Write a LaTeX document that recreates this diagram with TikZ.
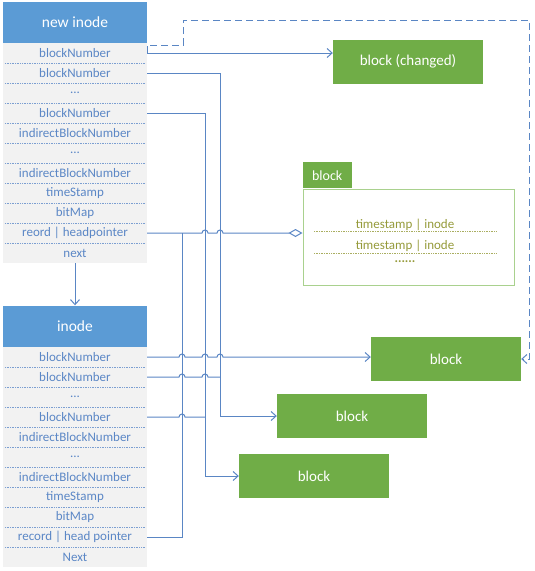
\documentclass[tikz,border=0pt]{standalone}
\usepackage{fontspec}
\setmainfont{Carlito}
\usepackage{tikz}
\usetikzlibrary{arrows.meta,calc}

\definecolor{hdblue}{HTML}{5B9BD5}
\definecolor{rowgray}{HTML}{F2F2F2}
\definecolor{rowtext}{HTML}{5B87C6}
\definecolor{lnblue}{HTML}{5A86C4}
\definecolor{blkgreen}{HTML}{70AD47}
\definecolor{boxgreen}{HTML}{A9D18E}
\definecolor{tsolive}{HTML}{959A3A}

% small bridge where a connector crosses a vertical one
\newcommand{\hopat}[2]{-- ($(#1 -| #2)+(-3,0)$) arc[start angle=180,end angle=360,radius=3]}

\begin{document}
\begin{tikzpicture}[x=1pt, y=-1pt,
  head/.style={rectangle, fill=hdblue, text=white, minimum width=144pt,
               minimum height=41pt, inner sep=0pt, font=\fontsize{15.5}{18}\selectfont},
  row/.style={rectangle, fill=rowgray, text=rowtext, minimum width=144pt,
              minimum height=20pt, inner sep=0pt, font=\fontsize{13}{15}\selectfont},
  blk/.style={rectangle, fill=blkgreen, text=white, minimum width=150pt,
              minimum height=44pt, inner sep=0pt, font=\fontsize{15}{18}\selectfont},
  tsrow/.style={rectangle, text=tsolive, minimum width=182pt, minimum height=14pt,
                inner sep=0pt, font=\fontsize{13}{15}\selectfont},
  sep/.style={rowtext!80, densely dotted, line width=0.7pt, shorten <=2pt, shorten >=2pt},
  tssep/.style={tsolive!80, densely dotted, line width=0.7pt},
  lk/.style={lnblue, line width=1pt},
  dl/.style={lnblue, line width=1pt, dash pattern=on 7pt off 4pt},
  arr/.style={-{Straight Barb[length=5pt,width=9pt]}}]

\useasboundingbox (0,0) rectangle (535,571);

%% new inode table
\node[head] (hd1) at (75,22.5) {new inode};
\node[row] (t1)  at (75,53)  {blockNumber};
\node[row] (t2)  at (75,73)  {blockNumber};
\node[row] (t3)  at (75,93)  {...};
\node[row] (t4)  at (75,113) {blockNumber};
\node[row] (t5)  at (75,133) {indirectBlockNumber};
\node[row] (t6)  at (75,153) {...};
\node[row] (t7)  at (75,173) {indirectBlockNumber};
\node[row] (t8)  at (75,193) {timeStamp};
\node[row] (t9)  at (75,213) {bitMap};
\node[row] (t10) at (75,233) {reord | headpointer};
\node[row] (t11) at (75,253) {next};
\draw[sep] (t1.south west)--(t1.south east); \draw[sep] (t2.south west)--(t2.south east);
\draw[sep] (t3.south west)--(t3.south east); \draw[sep] (t4.south west)--(t4.south east);
\draw[sep] (t5.south west)--(t5.south east); \draw[sep] (t6.south west)--(t6.south east);
\draw[sep] (t7.south west)--(t7.south east); \draw[sep] (t8.south west)--(t8.south east);
\draw[sep] (t9.south west)--(t9.south east); \draw[sep] (t10.south west)--(t10.south east);

%% inode table
\node[head] (hd2) at (75,326) {inode};
\node[row] (b1)  at (75,357) {blockNumber};
\node[row] (b2)  at (75,377) {blockNumber};
\node[row] (b3)  at (75,397) {...};
\node[row] (b4)  at (75,417) {blockNumber};
\node[row] (b5)  at (75,437) {indirectBlockNumber};
\node[row] (b6)  at (75,457) {...};
\node[row] (b7)  at (75,477) {indirectBlockNumber};
\node[row] (b8)  at (75,497) {timeStamp};
\node[row] (b9)  at (75,517) {bitMap};
\node[row] (b10) at (75,537) {record | head pointer};
\node[row] (b11) at (75,557) {Next};
\draw[sep] (b1.south west)--(b1.south east); \draw[sep] (b2.south west)--(b2.south east);
\draw[sep] (b3.south west)--(b3.south east); \draw[sep] (b4.south west)--(b4.south east);
\draw[sep] (b5.south west)--(b5.south east); \draw[sep] (b6.south west)--(b6.south east);
\draw[sep] (b7.south west)--(b7.south east); \draw[sep] (b8.south west)--(b8.south east);
\draw[sep] (b9.south west)--(b9.south east); \draw[sep] (b10.south west)--(b10.south east);

%% data blocks
\node[blk] (chg)  at (408,61.5) {block (changed)};
\node[blk] (blkR) at (446,359)  {block};
\node[blk] (blkM) at (352,416)  {block};
\node[blk] (blkB) at (314,476)  {block};

%% record block
\node[draw=boxgreen, line width=1pt, minimum width=211pt, minimum height=96pt,
      inner sep=0pt] (tsbox) at (408.5,237) {};
\node[fill=blkgreen, text=white, minimum width=49pt, minimum height=26pt, inner sep=0pt,
      anchor=south west, font=\fontsize{14}{16}\selectfont] (tab) at (tsbox.north west) {block};
\node[tsrow] (ts1) at (405,224.5) {timestamp | inode};
\node[tsrow] (ts2) at (405,246)   {timestamp | inode};
\node[tsrow, minimum width=0pt, minimum height=0pt] (ts3) at (405,262) {\textbf{......}};
\draw[tssep] (ts1.south west)--(ts1.south east);
\draw[tssep] (ts2.south west)--(ts2.south east);

%% vertical runs
\coordinate (vA) at (182,0);
\coordinate (vB) at (205,0);
\coordinate (vC) at (220,0);

%% connectors
\draw[lk,arr] (t11.south) -- (hd2.north);
\draw[lk,arr] (t1.east) -- (t1.east -| chg.west);
\draw[dl,arr] (t1.east) -- ++(0,-8) -- ++(36,0) |- (529,20) |- (blkR.east);
\draw[lk,arr] (t2.east) -| (vC |- blkM.west) -- (blkM.west);
\draw[lk,arr] (t4.east) -| (vB |- blkB.west) -- (blkB.west);
\draw[lk,-{Diamond[open,length=14pt,width=8pt]}] (t10.east)
  \hopat{t10.east}{vB} \hopat{t10.east}{vC} -- (t10.east -| tsbox.west);
\draw[lk] (t10.east -| vA) |- (b10.east);
\draw[lk,arr] (b1.east) \hopat{b1.east}{vA} \hopat{b1.east}{vB} \hopat{b1.east}{vC}
  -- (b1.east -| blkR.west);
\draw[lk] (b2.east) \hopat{b2.east}{vA} \hopat{b2.east}{vB} -- (b2.east -| vC);
\draw[lk] (b4.east) \hopat{b4.east}{vA} -- (b4.east -| vB);
\end{tikzpicture}
\end{document}
